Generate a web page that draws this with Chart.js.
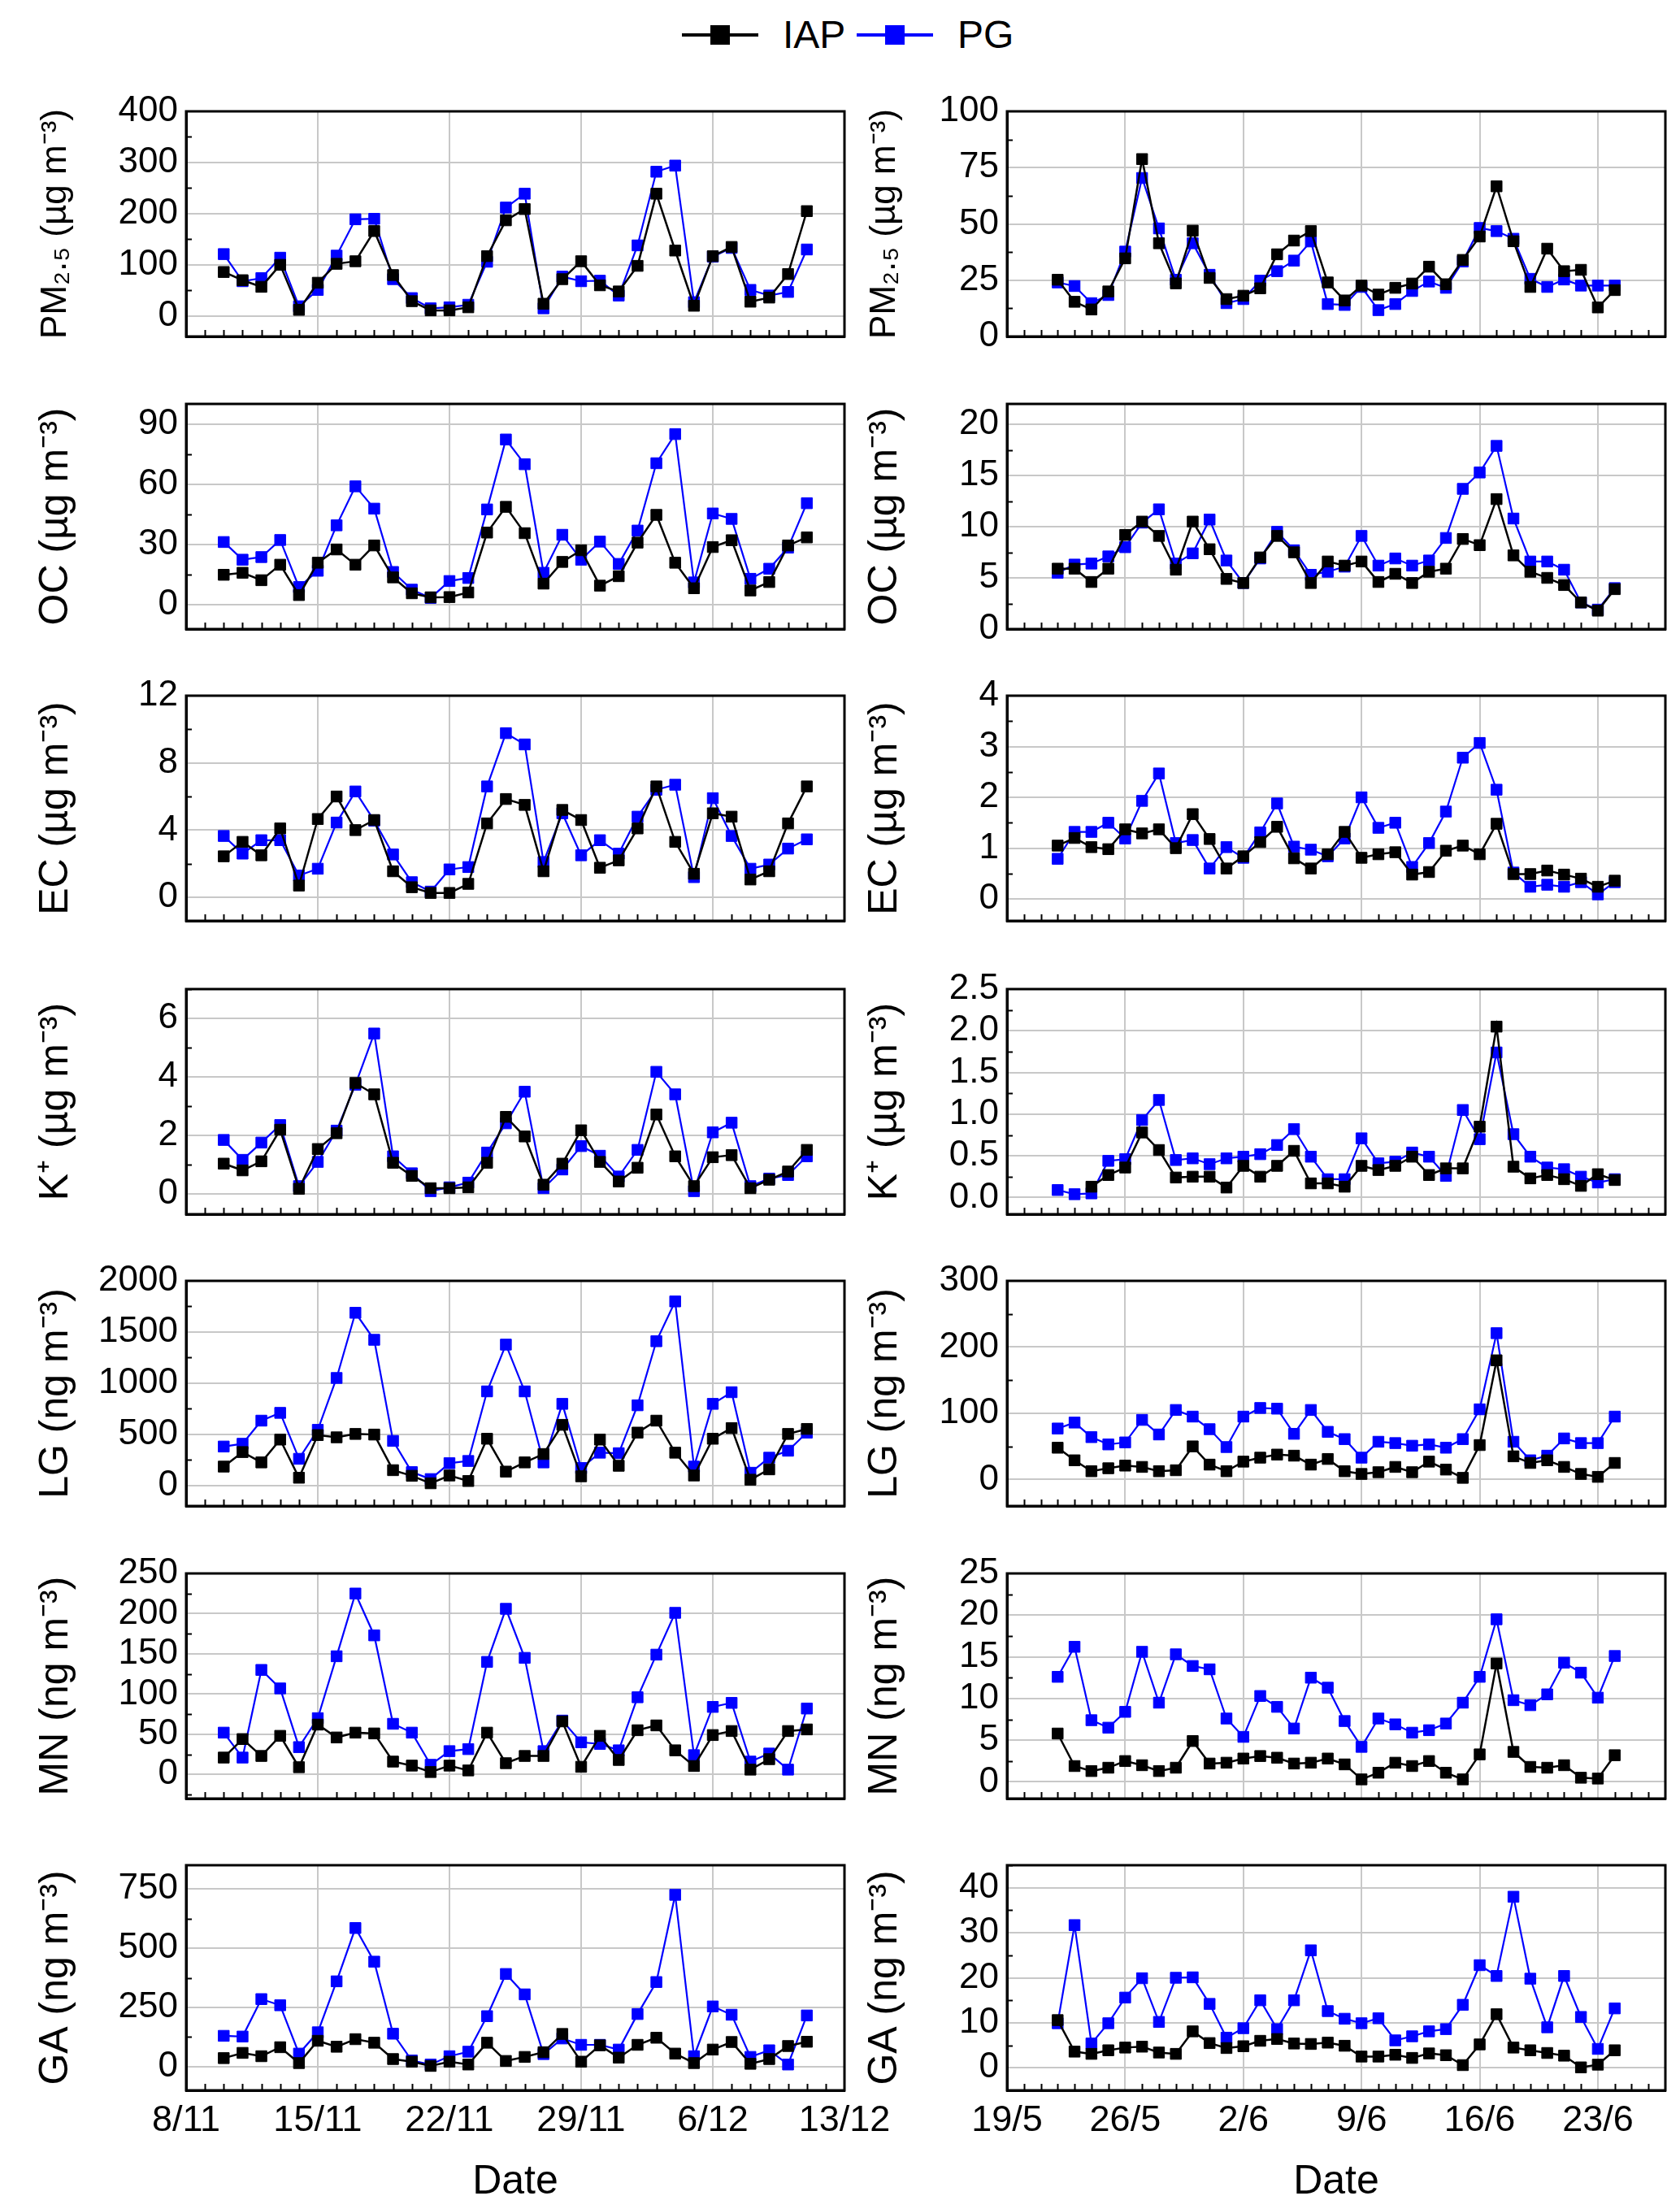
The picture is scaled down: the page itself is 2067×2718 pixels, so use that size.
<!DOCTYPE html>
<html>
<head>
<meta charset="utf-8">
<script src="https://cdn.jsdelivr.net/npm/chart.js@4.4.0/dist/chart.umd.min.js"></script>
<style>
  html, body { margin: 0; padding: 0; background: #fff; }
  body { width: 2067px; height: 2718px; position: relative; overflow: hidden; font-family: 'Liberation Sans', Arial, sans-serif; }
  .lg { position: absolute; }
  .lg-text { position: absolute; font-size: 48px; line-height: 48px; color: #000; }
</style>
</head>
<body>
<script>
// ---- dates / ticks ----
const novStart = '8/11', novEnd = '13/12';
const novTicks = ['8/11', '15/11', '22/11', '29/11', '6/12', '13/12'];
const novDates = ['10/11','11/11','12/11','13/11','14/11','15/11','16/11','17/11','18/11','19/11','20/11',
  '21/11','22/11','23/11','24/11','25/11','26/11','27/11','28/11','29/11','30/11',
  '1/12','2/12','3/12','4/12','5/12','6/12','7/12','8/12','9/12','10/12','11/12'];

const junStart = '19/5', junEnd = '27/6';
const junTicks = ['19/5', '26/5', '2/6', '9/6', '16/6', '23/6'];
const junDates = ['22/5','23/5','24/5','25/5','26/5','27/5','28/5','29/5','30/5','31/5',
  '1/6','2/6','3/6','4/6','5/6','6/6','7/6','8/6','9/6','10/6','11/6','12/6','13/6','14/6',
  '15/6','16/6','17/6','18/6','19/6','20/6','21/6','22/6','23/6','24/6'];

const seriesNames = ['IAP', 'PG'];

// ---- November / December (left column) ----
const pm25IapNov = [86,70,57,100,12,65,102,107,166,80,29,11,11,17,117,187,209,24,72,107,60,48,98,239,128,20,117,135,28,36,82,205];
const pm25PgNov  = [121,68,74,114,19,51,118,189,190,72,35,15,17,22,106,212,239,15,77,68,69,40,138,282,294,27,116,133,51,40,47,130];
const ocIapNov = [15,16,12.3,20,4.9,21,27.6,20,29.6,13.7,5.8,3.8,3.9,6.2,36,48.8,35.7,10.6,21.4,27.2,9.6,14.3,31,44.8,21,8.3,28.8,32.2,7.2,11.4,29.6,33.6];
const ocPgNov  = [31.3,22.5,23.8,32.3,8.9,17,39.6,59,47.9,16.4,7.6,3.5,11.9,13.4,47.5,82.3,70,16,34.9,22.5,31.5,20.4,37,70.5,85,11.2,45.5,42.8,13,18,28.5,50.6];
const ecIapNov = [2.44,3.3,2.5,4.1,0.7,4.66,6.0,4.0,4.6,1.55,0.6,0.26,0.26,0.8,4.4,5.85,5.5,1.55,5.2,4.6,1.76,2.2,4.1,6.6,3.3,1.4,5.0,4.8,1.06,1.55,4.4,6.6];
const ecPgNov  = [3.65,2.6,3.4,3.4,1.3,1.7,4.45,6.3,4.56,2.55,0.9,0.34,1.66,1.8,6.6,9.77,9.1,2.1,5.0,2.5,3.4,2.6,4.8,6.4,6.7,1.2,5.9,3.65,1.7,1.95,2.9,3.45];
const kIapNov = [1.03,0.8,1.11,2.19,0.17,1.53,2.07,3.79,3.4,1.06,0.61,0.19,0.19,0.22,1.06,2.63,1.96,0.31,1.03,2.17,1.09,0.42,0.89,2.71,1.28,0.26,1.25,1.32,0.19,0.48,0.76,1.5];
const kPgNov  = [1.84,1.16,1.75,2.35,0.26,1.09,2.16,3.73,5.48,1.28,0.7,0.09,0.22,0.38,1.41,2.41,3.49,0.19,0.83,1.63,1.3,0.59,1.5,4.17,3.4,0.09,2.1,2.43,0.26,0.52,0.64,1.28];
const lgIapNov = [185,327,226,449,76,493,471,504,498,150,95,22,98,44,457,136,226,308,593,90,449,193,517,634,321,98,457,561,57,158,504,553];
const lgPgNov  = [381,408,634,710,261,544,1051,1688,1424,436,131,63,218,240,920,1377,920,226,798,171,321,316,784,1410,1799,185,798,912,125,272,340,517];
const mnIapNov = [21,44,23,48,9,62,46,52,51,16,11,3,11,5,52,14,23,23,66,9.5,48,18,55,61,30,10.5,49,54,6,19,54,56];
const mnPgNov  = [52,21,130,107,34,70,147,225,173,63,52,12,29,31.5,140,206,145,29,67,40,38,30,96,149,201,24,84,89,16,26,6,82];
const gaIapNov = [36,58,44,82,15,109,84,116,101,32,21,3,21,9,101,24,41,61,138,21,90,38,92,122,55,15,72,104,12,32,87,105];
const gaPgNov  = [130,127,285,259,55,145,360,585,443,139,26,9,44,63,213,391,305,53,119,92,92,72,222,357,725,44,254,219,41,69,9,216];

// ---- May / June (right column) ----
const pm25IapJun = [25.2,15.4,12,20,34.7,78.8,41.4,23.6,47,26,16.6,18.1,21.4,36.5,42.6,46.8,24,16,22.6,18.6,21.6,23.5,31,23.2,34,44.4,66.7,42.3,22,39,29,29.6,12.9,20.6];
const pm25PgJun  = [24,22.4,14.8,18.4,37.7,70.4,48,25.2,41.4,27.4,14.8,16.6,24.8,29,33.7,42.2,14.4,14,22,11.7,14.4,20.2,24.4,21.6,33.3,48.2,46.8,43.4,25.6,22,25.3,22.6,22.6,22.6];
const ocIapJun = [5.9,5.9,4.6,5.9,9.2,10.5,9.1,5.8,10.5,7.8,4.9,4.5,7.0,9.1,7.5,4.5,6.6,6.2,6.6,4.6,5.4,4.5,5.6,5.9,8.8,8.2,12.7,7.2,5.6,5.0,4.3,2.6,1.8,3.9];
const ocPgJun  = [5.5,6.3,6.4,7.1,8.0,10.4,11.7,6.4,7.4,10.7,6.7,4.5,6.9,9.5,7.7,5.3,5.6,6.1,9.1,6.2,6.9,6.2,6.7,8.9,13.7,15.3,17.9,10.8,6.6,6.6,5.8,2.6,1.9,4.0];
const ecIapJun = [1.05,1.2,1.02,0.98,1.37,1.29,1.37,1.0,1.67,1.18,0.6,0.84,1.12,1.42,0.8,0.6,0.88,1.32,0.81,0.88,0.92,0.48,0.53,0.95,1.05,0.88,1.48,0.49,0.49,0.56,0.48,0.4,0.24,0.36];
const ecPgJun  = [0.79,1.32,1.32,1.5,1.19,1.93,2.47,1.1,1.16,0.6,1.02,0.81,1.31,1.88,1.03,0.97,0.84,1.19,2.0,1.4,1.5,0.63,1.1,1.72,2.78,3.07,2.15,0.52,0.24,0.28,0.24,0.33,0.09,0.33];
const kIapJun = [null,null,0.13,0.27,0.36,0.78,0.57,0.24,0.25,0.25,0.12,0.38,0.25,0.38,0.56,0.17,0.17,0.13,0.38,0.33,0.38,0.49,0.27,0.35,0.35,0.85,2.05,0.37,0.23,0.27,0.22,0.14,0.28,0.21];
const kPgJun  = [0.09,0.04,0.05,0.44,0.46,0.93,1.17,0.45,0.47,0.4,0.47,0.49,0.52,0.63,0.82,0.49,0.22,0.22,0.71,0.41,0.43,0.54,0.49,0.26,1.05,0.7,1.74,0.76,0.49,0.36,0.34,0.25,0.18,0.22];
const lgIapJun = [48,29,12.5,17,21,19,12.5,14,50,22.5,12.5,27,33,37.6,36,22.5,31,12.5,8.4,11,19,11,27,15,2.5,52,180,35,25,29,19,8.4,4,25];
const lgPgJun  = [77,86,64,53,56,90,68,105,95,76,49,95,108,107,69,105,72,61,33,57,55,51,53,48,61,106,221,57,29,36,62,55,55,95];
const mnIapJun = [5.8,1.9,1.3,1.7,2.5,2.0,1.3,1.7,4.9,2.2,2.3,2.8,3.1,2.9,2.2,2.3,2.8,2.1,0.3,1.1,2.3,1.9,2.5,1.1,0.3,3.3,14.2,3.6,1.8,1.7,2.0,0.5,0.4,3.2];
const mnPgJun  = [12.6,16.2,7.4,6.5,8.4,15.6,9.5,15.3,13.9,13.5,7.6,5.4,10.3,9.0,6.4,12.5,11.3,7.3,4.2,7.6,6.9,5.9,6.2,7.0,9.5,12.6,19.5,9.8,9.2,10.5,14.3,13.1,10.1,15.1];
const gaIapJun = [10.6,3.6,3.1,3.9,4.5,4.7,3.4,3.1,8.1,5.5,4.4,4.8,6.0,6.4,5.4,5.3,5.6,4.9,2.5,2.5,2.9,2.2,3.2,2.8,0.6,5.2,11.9,4.5,3.9,3.3,2.7,0.1,0.7,3.9];
const gaPgJun  = [9.9,31.7,5.4,9.9,15.6,19.9,10.2,20.0,20.1,14.2,6.7,8.8,15.0,8.6,15.0,26.1,12.6,10.9,9.9,11.0,6.1,7.0,8.1,8.6,14.0,22.8,20.4,38.0,19.8,9.0,20.4,11.3,4.2,13.2];

// ---- y tick labels ----
const pm25TicksNov = [0,100,200,300,400], pm25TicksJun = [0,25,50,75,100];
const ocTicksNov = [0,30,60,90], ocTicksJun = [0,5,10,15,20];
const ecTicksNov = [0,4,8,12], ecTicksJun = [0,1,2,3,4];
const kTicksNov = [0,2,4,6], kTicksJun = [0,0.5,1,1.5,2,2.5];
const lgTicksNov = [0,500,1000,1500,2000], lgTicksJun = [0,100,200,300];
const mnTicksNov = [0,50,100,150,200,250], mnTicksJun = [0,5,10,15,20,25];
const gaTicksNov = [0,250,500,750], gaTicksJun = [0,10,20,30,40];

const yTitles = ['PM\u2082.\u2085 (\u00b5g m\u207b\u00b3)', 'OC (\u00b5g m\u207b\u00b3)', 'EC (\u00b5g m\u207b\u00b3)',
  'K\u207a (\u00b5g m\u207b\u00b3)', 'LG (ng m\u207b\u00b3)', 'MN (ng m\u207b\u00b3)', 'GA (ng m\u207b\u00b3)'];
const yTitleSize = [44, 50, 50, 50, 50, 50, 50];

const FONT = "'Liberation Sans', Arial, sans-serif";
const COLORS = ['#000000', '#0000ff'];
const ROW_TOP = [137, 497, 856, 1217, 1576, 1936, 2295];
const COL_LEFT = [229, 1239];
const TITLE_PAD = [10, 20];
const PH = 277, PW = 810;

const columns = [
  { start: novStart, end: novEnd, ticks: novTicks, dates: novDates, panels: [
    { iap: pm25IapNov, pg: pm25PgNov, min: -40, max: 400, ticks: pm25TicksNov, minor: 50 },
    { iap: ocIapNov, pg: ocPgNov, min: -12, max: 100, ticks: ocTicksNov, minor: 15 },
    { iap: ecIapNov, pg: ecPgNov, min: -1.4, max: 12, ticks: ecTicksNov, minor: 2 },
    { iap: kIapNov, pg: kPgNov, min: -0.7, max: 7, ticks: kTicksNov, minor: 1 },
    { iap: lgIapNov, pg: lgPgNov, min: -200, max: 2000, ticks: lgTicksNov, minor: 250 },
    { iap: mnIapNov, pg: mnPgNov, min: -30, max: 250, ticks: mnTicksNov, minor: 25 },
    { iap: gaIapNov, pg: gaPgNov, min: -100, max: 850, ticks: gaTicksNov, minor: 125 }
  ]},
  { start: junStart, end: junEnd, ticks: junTicks, dates: junDates, panels: [
    { iap: pm25IapJun, pg: pm25PgJun, min: 0, max: 100, ticks: pm25TicksJun, minor: 12.5 },
    { iap: ocIapJun, pg: ocPgJun, min: 0, max: 22, ticks: ocTicksJun, minor: 2.5 },
    { iap: ecIapJun, pg: ecPgJun, min: -0.43, max: 4, ticks: ecTicksJun, minor: 0.5 },
    { iap: kIapJun, pg: kPgJun, min: -0.2, max: 2.5, ticks: kTicksJun, minor: 0.25, fixed: 1 },
    { iap: lgIapJun, pg: lgPgJun, min: -40, max: 300, ticks: lgTicksJun, minor: 50 },
    { iap: mnIapJun, pg: mnPgJun, min: -2, max: 25, ticks: mnTicksJun, minor: 2.5 },
    { iap: gaIapJun, pg: gaPgJun, min: -5, max: 45, ticks: gaTicksJun, minor: 5 }
  ]}
];

function toDay(s, start) {
  const [d, m] = s.split('/').map(Number);
  const [d0, m0] = start.split('/').map(Number);
  return Math.round((Date.UTC(2001, m - 1, d) - Date.UTC(2001, m0 - 1, d0)) / 86400000);
}

// box round the plot + inward minor ticks, like the Origin original
const framePlugin = {
  id: 'frame',
  afterDraw(chart, args, opts) {
    const { ctx, chartArea: a, scales: { x, y } } = chart;
    ctx.save();
    ctx.strokeStyle = '#000';
    ctx.lineWidth = 2;
    ctx.beginPath();
    const k0 = Math.ceil(y.min / opts.minor - 1e-9), k1 = Math.floor(y.max / opts.minor + 1e-9);
    for (let k = k0; k <= k1; k++) {
      const v = k * opts.minor;
      if (opts.major.some(m => Math.abs(m - v) < 1e-6)) continue;
      const py = Math.round(y.getPixelForValue(v)) + 0.5;
      ctx.moveTo(a.left, py); ctx.lineTo(a.left + 7, py);
    }
    for (let d = 1; d < x.max; d++) {
      if (d % 7 === 0) continue;
      const px = Math.round(x.getPixelForValue(d)) + 0.5;
      ctx.moveTo(px, a.bottom); ctx.lineTo(px, a.bottom - 8);
    }
    ctx.stroke();
    ctx.lineWidth = 3;
    ctx.strokeRect(a.left, a.top, a.right - a.left, a.bottom - a.top);
    ctx.restore();
  }
};

function makePanel(col, row) {
  const c = columns[col], p = c.panels[row];
  const last = row === 6;
  const ax = 200, pt = 24, pr = col === 0 ? 70 : 18, xb = last ? 170 : 12;
  const W = ax + PW + pr, H = pt + PH + xb;
  const cv = document.createElement('canvas');
  cv.width = W; cv.height = H;
  cv.style.cssText = `position:absolute;left:${COL_LEFT[col] - ax}px;top:${ROW_TOP[row] - pt}px;width:${W}px;height:${H}px`;
  document.body.appendChild(cv);

  const xs = c.dates.map(s => toDay(s, c.start));
  const xTickVals = c.ticks.map(s => toDay(s, c.start));
  const series = [p.iap, p.pg];

  new Chart(cv, {
    type: 'line',
    data: {
      datasets: series.map((vals, i) => ({
        label: seriesNames[i],
        data: vals.map((v, j) => ({ x: xs[j], y: v })),
        borderColor: COLORS[i],
        backgroundColor: COLORS[i],
        borderWidth: i === 0 ? 2.5 : 2.2,
        pointStyle: 'rect',
        pointRadius: 9.5,
        pointBorderWidth: 1,
        pointBorderColor: COLORS[i],
        pointBackgroundColor: COLORS[i],
        tension: 0,
        clip: false
      }))
    },
    options: {
      responsive: false,
      animation: false,
      devicePixelRatio: 1,
      layout: { padding: { top: pt, right: pr, left: 0, bottom: 0 } },
      plugins: {
        legend: { display: false },
        tooltip: { enabled: false },
        frame: { minor: p.minor, major: p.ticks }
      },
      scales: {
        x: {
          type: 'linear',
          min: 0,
          max: toDay(c.end, c.start),
          afterBuildTicks: s => { s.ticks = xTickVals.map(v => ({ value: v })); },
          afterFit: s => { s.height = xb; s.paddingLeft = 0; s.paddingRight = 0; },
          grid: { color: '#c8c8c8', lineWidth: 2, drawTicks: false },
          border: { color: '#000', width: 3 },
          ticks: {
            display: last, autoSkip: false, maxRotation: 0, padding: 11, color: '#000',
            font: { family: FONT, size: 45 },
            callback: (v, i) => c.ticks[i]
          },
          title: { display: last, text: 'Date', color: '#000', font: { family: FONT, size: 50 }, padding: { top: 0, bottom: 27 } }
        },
        y: {
          type: 'linear',
          min: p.min,
          max: p.max,
          afterBuildTicks: s => { s.ticks = p.ticks.map(v => ({ value: v })); },
          afterFit: s => { s.width = ax; s.paddingTop = 0; s.paddingBottom = 0; },
          grid: { color: '#c8c8c8', lineWidth: 2, drawTicks: false },
          border: { color: '#000', width: 3 },
          ticks: {
            padding: 10, color: '#000', autoSkip: false,
            font: { family: FONT, size: 44 },
            callback: v => p.fixed ? v.toFixed(p.fixed) : String(v)
          },
          title: {
            display: true, text: yTitles[row], color: '#000',
            font: { family: FONT, size: yTitleSize[row] },
            padding: { top: TITLE_PAD[col] + (50 - yTitleSize[row]) * 0.6, bottom: 0 }
          }
        }
      }
    },
    plugins: [framePlugin]
  });
}

for (let col = 0; col < 2; col++) {
  for (let row = 0; row < 7; row++) makePanel(col, row);
}

// legend on top of the figure
const legendX = [839, 1054];
seriesNames.forEach((name, i) => {
  const line = document.createElement('div');
  line.className = 'lg';
  line.style.cssText = `left:${legendX[i]}px;top:41px;width:94px;height:4px;background:${COLORS[i]}`;
  const mark = document.createElement('div');
  mark.className = 'lg';
  mark.style.cssText = `left:${legendX[i] + 35}px;top:31px;width:24px;height:24px;background:${COLORS[i]}`;
  const txt = document.createElement('span');
  txt.className = 'lg-text';
  txt.style.cssText = `left:${legendX[i] + 124}px;top:19px`;
  txt.textContent = name;
  document.body.append(line, mark, txt);
});
</script>
</body>
</html>
